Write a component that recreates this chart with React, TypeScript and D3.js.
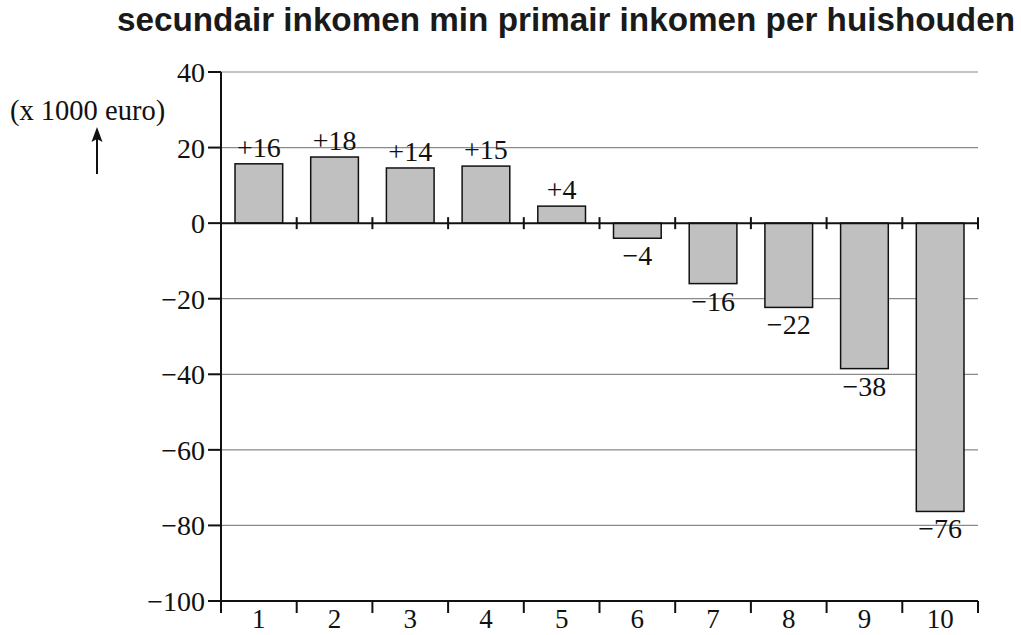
import React from "react";
import * as d3 from "d3";

const categories = ["1", "2", "3", "4", "5", "6", "7", "8", "9", "10"];
const values = [15.7, 17.5, 14.6, 15.1, 4.5, -4, -16, -22.3, -38.5, -76.3];
const valueLabels = ["+16", "+18", "+14", "+15", "+4", "\u22124", "\u221216", "\u221222", "\u221238", "\u221276"];
const yTicks = [40, 20, 0, -20, -40, -60, -80, -100];
const title = "secundair inkomen min primair inkomen per huishouden";
const unitLabel = "(x 1000 euro)";

export default function App() {
  const W = 1021, H = 635;
  const left = 221, right = 978, top = 72, bottom = 601;
  const y = d3.scaleLinear().domain([-100, 40]).range([bottom, top]);
  const x = d3.scaleBand<string>().domain(categories).range([left, right]).paddingInner(0.37).paddingOuter(0.185);
  const boundaries = d3.range(0, categories.length + 1).map((i) => left + i * ((right - left) / categories.length));
  const serif = "'Liberation Serif', 'Times New Roman', serif";
  const y0 = y(0);
  return (
    <svg width={W} height={H} style={{ position: "absolute", left: 0, top: 0 }}>
      <rect width={W} height={H} fill="#fff" />
      <text x={117} y={31} fontFamily="'Liberation Sans Narrow', 'Liberation Sans', Arial, sans-serif" fontWeight="bold" fontSize={33} textLength={898} lengthAdjust="spacingAndGlyphs" fill="#1a1a1a">{title}</text>
      {/* gridlines */}
      {yTicks.filter((t) => t !== 0 && t !== -100).map((t) => (
        <line key={t} x1={left} x2={right} y1={y(t)} y2={y(t)} stroke="#8a8a8a" strokeWidth={1.2} />
      ))}
      {/* bars */}
      {values.map((v, i) => {
        const bx = x(categories[i])!;
        const y1 = Math.min(y(v), y0);
        const h = Math.abs(y(v) - y0);
        return <rect key={i} x={bx} y={y1} width={x.bandwidth()} height={h} fill="#c0c0c0" stroke="#111" strokeWidth={1.5} />;
      })}
      {/* value labels */}
      {values.map((v, i) => {
        const cx = x(categories[i])! + x.bandwidth() / 2;
        const ty = v >= 0 ? y(v) - 7 : y(v) + 27;
        return <text key={i} x={cx} y={ty} textAnchor="middle" fontFamily={serif} fontSize={28} fill="#111">{valueLabels[i]}</text>;
      })}
      {/* y axis */}
      <line x1={left} x2={left} y1={top} y2={bottom} stroke="#111" strokeWidth={2} />
      {yTicks.map((t) => (
        <g key={t}>
          <line x1={left - 13} x2={left} y1={y(t)} y2={y(t)} stroke="#111" strokeWidth={2} />
          <text x={left - 16} y={y(t) + 10} textAnchor="end" fontFamily={serif} fontSize={28} fill="#111">{t < 0 ? "\u2212" + Math.abs(t) : String(t)}</text>
        </g>
      ))}
      {/* zero line */}
      <line x1={left} x2={right} y1={y0} y2={y0} stroke="#111" strokeWidth={2} />
      {boundaries.slice(1).map((bx, i) => (
        <line key={i} x1={bx} x2={bx} y1={y0 - 6} y2={y0 + 6} stroke="#111" strokeWidth={2} />
      ))}
      {/* bottom axis */}
      <line x1={left} x2={right} y1={bottom} y2={bottom} stroke="#111" strokeWidth={2} />
      {boundaries.map((bx, i) => (
        <line key={i} x1={bx} x2={bx} y1={bottom} y2={bottom + 12} stroke="#111" strokeWidth={2} />
      ))}
      {categories.map((c) => (
        <text key={c} x={x(c)! + x.bandwidth() / 2} y={628} textAnchor="middle" fontFamily={serif} fontSize={27} fill="#111">{c}</text>
      ))}
      {/* unit label and arrow */}
      <text x={10} y={120} fontFamily={serif} fontSize={28.5} fill="#111">{unitLabel}</text>
      <line x1={97} x2={97} y1={174} y2={136} stroke="#111" strokeWidth={2} />
      <path d="M97,127 L91.5,142 L97,139 L102.5,142 Z" fill="#111" />
    </svg>
  );
}
